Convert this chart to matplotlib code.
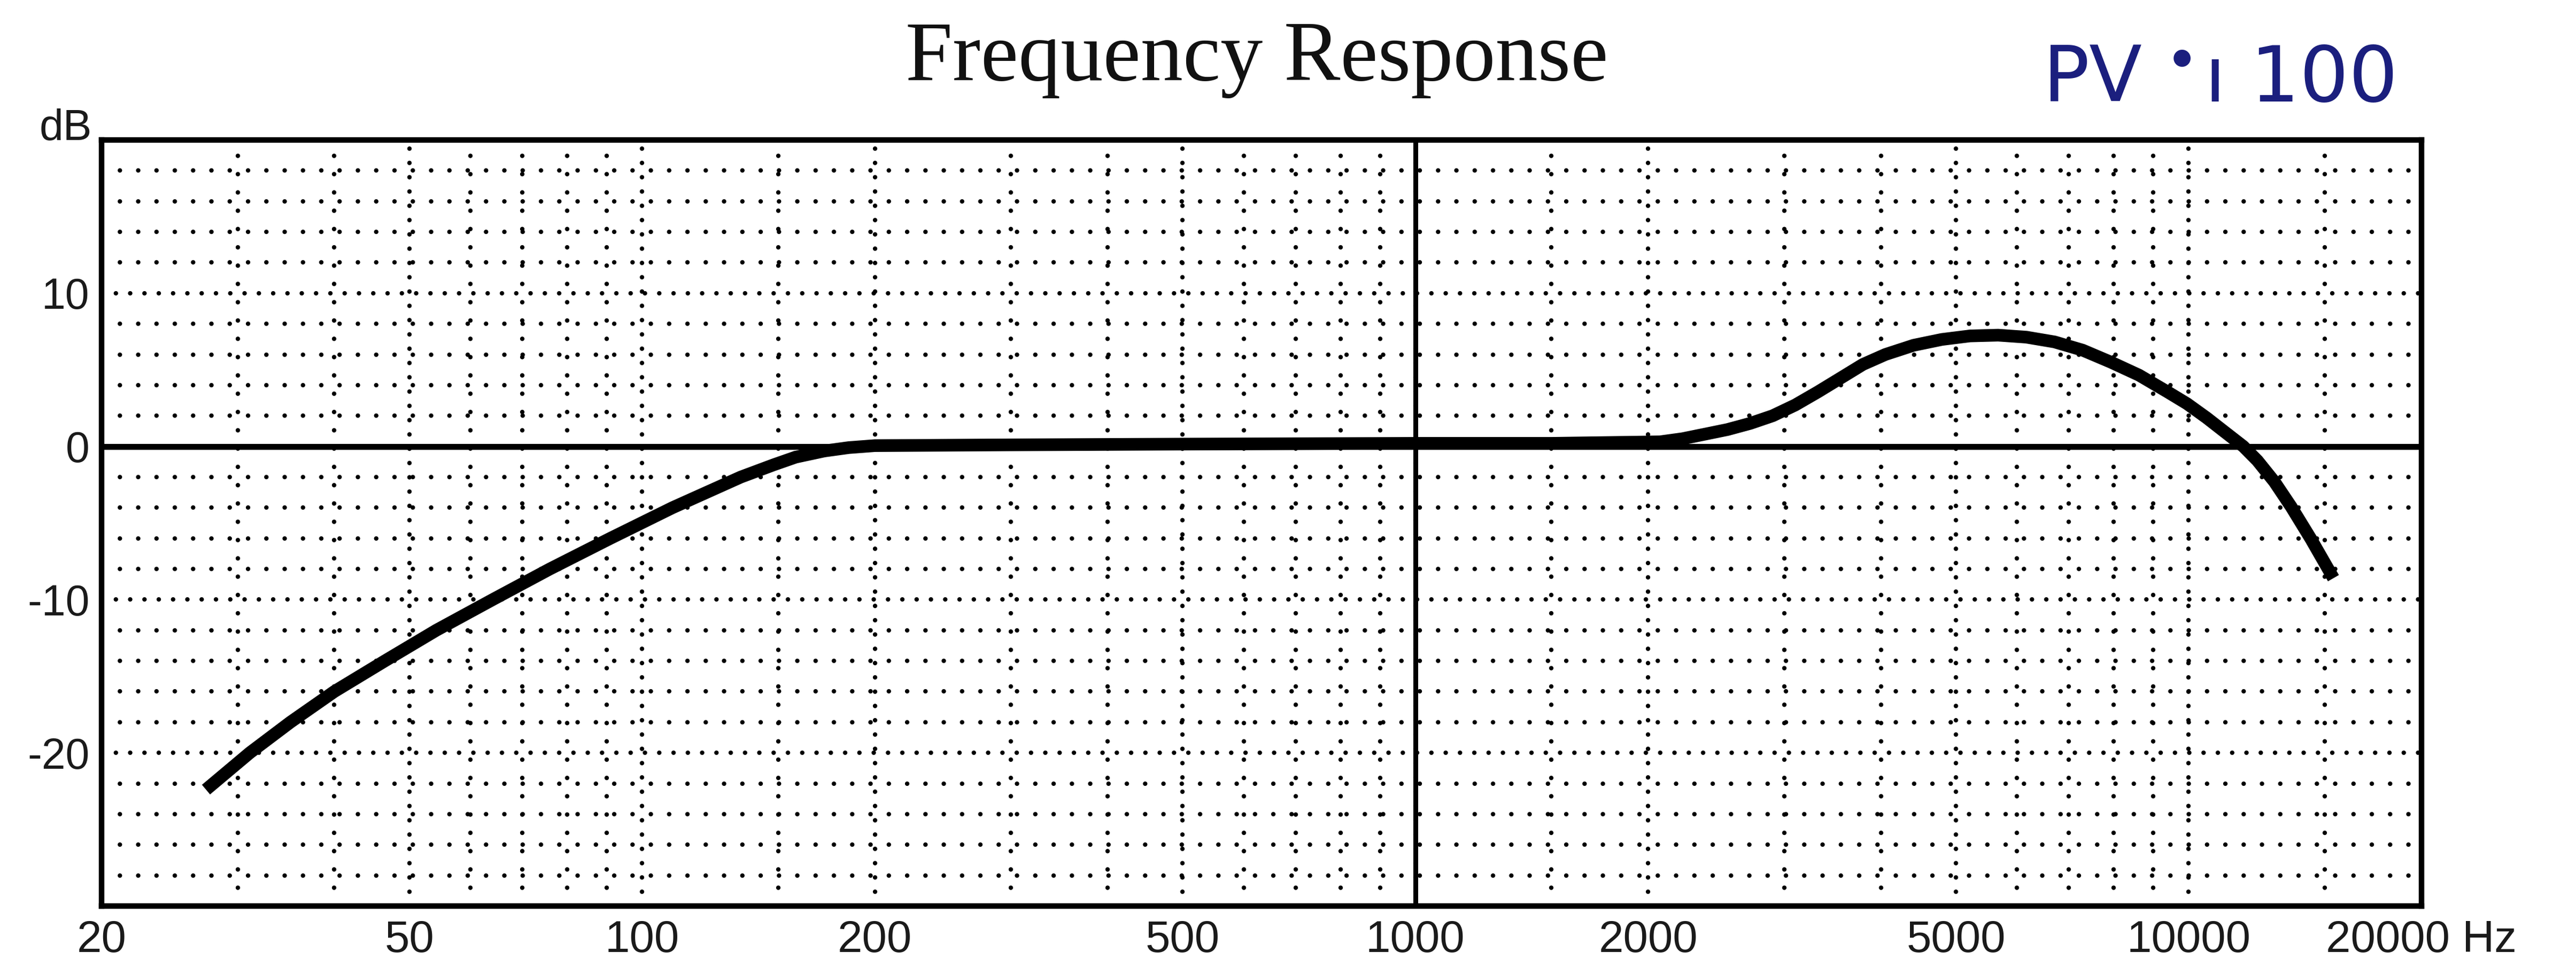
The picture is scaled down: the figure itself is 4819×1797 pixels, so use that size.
import matplotlib
matplotlib.use("Agg")
import matplotlib.pyplot as plt
from matplotlib.ticker import FixedLocator, NullFormatter

# response curve (Hz, dB)
freq = [27.3, 31.1, 35.1, 40.0, 46.5, 54.2, 64.1, 76.0, 91.0, 109.5, 134.2, 148,
        158, 172, 185, 200, 300, 500, 1000, 1500, 2072, 2215, 2369, 2533, 2710,
        2898, 3099, 3314, 3545, 3791, 4054, 4409, 4795, 5214, 5670, 6167, 6707,
        7294, 7932, 8627, 9382, 9950, 10554, 11098, 11768, 12273, 12906, 13574,
        14395, 15390]
level = [-22.4, -20, -18, -16, -14, -12, -10, -8, -6, -4, -2, -1.2,
         -0.7, -0.3, -0.08, 0.05, 0.1, 0.15, 0.2, 0.2, 0.3, 0.5, 0.8, 1.1, 1.5,
         2.0, 2.7, 3.55, 4.45, 5.35, 6.0, 6.6, 6.98, 7.21, 7.26, 7.13, 6.82,
         6.28, 5.5, 4.65, 3.57, 2.79, 1.86, 1.0, 0, -0.93, -2.3, -3.95,
         -6.05, -8.6]

x_major = [20, 50, 100, 200, 500, 1000, 2000, 5000, 10000, 20000]
x_labels = ['20', '50', '100', '200', '500', '1000', '2000', '5000', '10000', '20000 Hz']
x_minor = [30, 40, 60, 70, 80, 90, 150, 300, 400, 600, 700, 800, 900, 1500,
           3000, 4000, 6000, 7000, 8000, 9000, 15000]
y_major = [-20, -10, 0, 10]
y_labels = ['-20', '-10', '0', '10']
y_minor = [-28, -26, -24, -22, -18, -16, -14, -12, -8, -6, -4, -2,
           2, 4, 6, 8, 12, 14, 16, 18]

fig = plt.figure(figsize=(48.19, 17.97), dpi=100)
ax = fig.add_axes([0.0394, 0.0562, 0.9006, 0.798])

ax.set_xscale('log')
ax.set_xlim(20, 20000)
ax.set_ylim(-30, 20)

ax.set_xticks(x_major)
ax.set_xticklabels(x_labels)
ax.xaxis.set_minor_locator(FixedLocator(x_minor))
ax.xaxis.set_minor_formatter(NullFormatter())
ax.set_yticks(y_major)
ax.set_yticklabels(y_labels)
ax.yaxis.set_minor_locator(FixedLocator(y_minor))

ax.tick_params(which='both', length=0, labelcolor='#1a1a1a')
ax.tick_params(axis='x', pad=18, labelsize=60)
ax.tick_params(axis='y', pad=16, labelsize=58)
for lab in ax.get_xticklabels() + ax.get_yticklabels():
    lab.set_family('Liberation Sans')

# dotted grid: dense dots on the main lines, sparse on the minor ones
dot = dict(color='k', dash_capstyle='round', lw=6)
ax.grid(which='major', axis='y', linestyle=(0, (0.01, 3.2)), **dot)
ax.grid(which='minor', axis='y', linestyle=(0, (0.01, 4.1)), **dot)
ax.grid(which='major', axis='x', linestyle=(0, (0.01, 3.2)), **dot)
ax.grid(which='minor', axis='x', linestyle=(0, (0.01, 4.1)), **dot)

ax.axhline(0, color='k', lw=8, zorder=2)
ax.axvline(1000, color='k', lw=6.5, zorder=2)

ax.plot(freq, level, color='k', lw=17, solid_joinstyle='round',
        solid_capstyle='butt', zorder=3)

for sp in ax.spines.values():
    sp.set_linewidth(7.5)
    sp.set_color('k')

ax.text(-0.004, 1.0, 'dB', transform=ax.transAxes, ha='right', va='baseline',
        fontsize=58, family='Liberation Sans', color='#1a1a1a')

fig.text(0.488, 0.9165, 'Frequency Response', family='Liberation Serif',
         fontsize=114, ha='center', va='baseline', color='#111111')

# logo
navy = '#1b1f7e'
fig.text(0.7931, 0.8943, 'PV', family='DejaVu Sans', fontsize=104,
         ha='left', va='baseline', color=navy)
fig.text(0.8470, 0.940, '\u25cf', family='DejaVu Sans', fontsize=30,
         ha='center', va='center', color=navy)
fig.text(0.8558, 0.8943, '\u0131 100', family='DejaVu Sans', fontsize=104,
         ha='left', va='baseline', color=navy)

fig.savefig('out.png', dpi=100, facecolor='white')
